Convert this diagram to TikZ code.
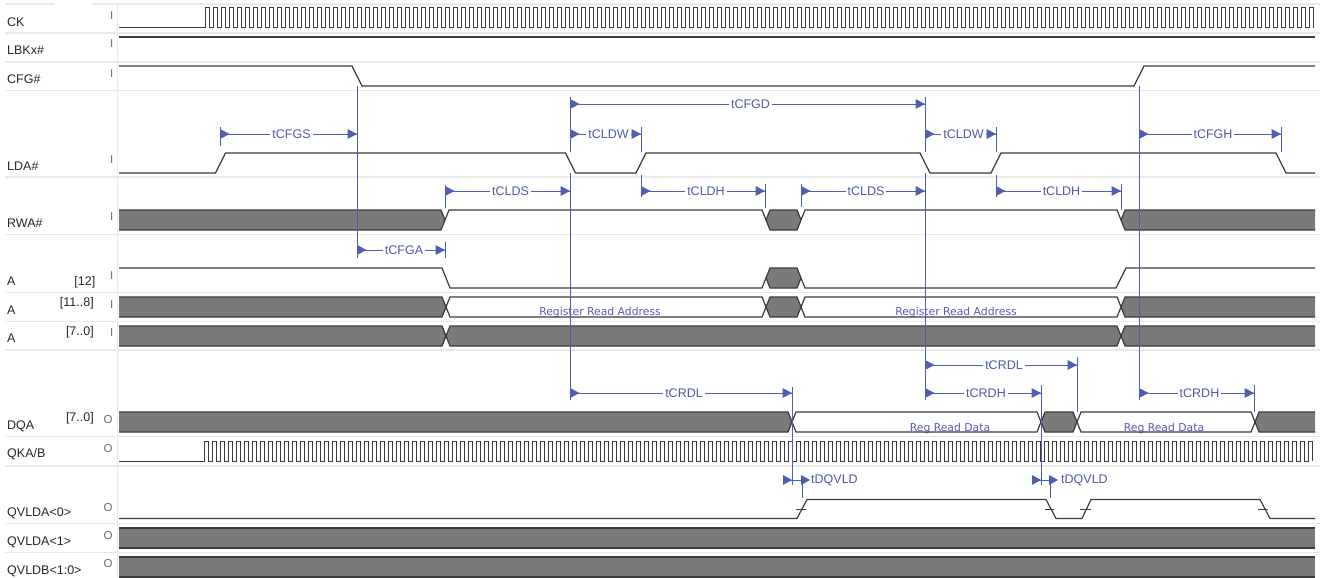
\documentclass[tikz,border=0pt]{standalone}
\usepackage{fontspec}
\setmainfont{Liberation Sans}
\newfontfamily\busfont{DejaVu Sans}
\definecolor{wave}{RGB}{60,60,60}
\definecolor{busgray}{RGB}{122,122,122}
\definecolor{dimc}{RGB}{80,94,178}
\definecolor{dimtext}{RGB}{78,88,172}
\definecolor{sepc}{RGB}{234,234,234}
\definecolor{iocol}{RGB}{110,110,110}
\definecolor{labc}{RGB}{40,40,40}
\definecolor{bustext}{RGB}{88,88,190}
\tikzset{
 wv/.style={draw=wave, line width=1.2pt, line join=miter},
 clk/.style={draw=wave, line width=1pt},
 sep/.style={draw=sepc, line width=1.5pt},
 dimln/.style={draw=dimc, line width=1pt},
 tick/.style={draw=wave, line width=0.7pt},
 siglabel/.style={anchor=base west, inner sep=0pt, text=labc, font=\fontsize{12.5}{14}\selectfont},
 idxlabel/.style={anchor=base east, inner sep=0pt, text=labc, font=\fontsize{12.5}{14}\selectfont},
 iolabel/.style={anchor=base, inner sep=0pt, text=iocol, font=\fontsize{11.5}{13}\selectfont},
 dimlabel/.style={fill=white, inner xsep=2pt, inner ysep=1pt, text=dimtext, font=\fontsize{12.5}{14}\selectfont},
 bustxt/.style={anchor=base, inner sep=0pt, text=bustext, font=\busfont\fontsize{10.8}{12}\selectfont},
}
\newcommand{\dimarrow}[5]{%
  \draw[dimln] ({#3},{#2}) -- ({#4},{#2});
  \fill[dimc] ({#3},{#2-5}) -- ({#3+9.5},{#2}) -- ({#3},{#2+5}) -- cycle;
  \fill[dimc] ({#4-9.5},{#2-5}) -- ({#4},{#2}) -- ({#4-9.5},{#2+5}) -- cycle;
  \node[dimlabel] (#1) at ({(#3+#4)/2+3},{#2}) {#5};
}
\newcommand{\vmark}[3]{\draw[dimln] ({#1},{#2}) -- ({#1},{#3});}
\newcommand{\graybus}[4]{% point x1, point x2, top, bottom
  \filldraw[wv, fill=busgray] ({#1},{(#3+#4)/2}) -- ({#1+4},{#3}) -- ({#2-4},{#3}) -- ({#2},{(#3+#4)/2}) -- ({#2-4},{#4}) -- ({#1+4},{#4}) -- cycle;}
\newcommand{\whitebus}[4]{%
  \draw[wv] ({#1},{(#3+#4)/2}) -- ({#1+4},{#3}) -- ({#2-4},{#3}) -- ({#2},{(#3+#4)/2}) -- ({#2-4},{#4}) -- ({#1+4},{#4}) -- cycle;}
\newcommand{\graystart}[3]{% from left edge to point x, top, bottom
  \fill[busgray] (119,{#2}) -- ({#1-4},{#2}) -- ({#1},{(#2+#3)/2}) -- ({#1-4},{#3}) -- (119,{#3}) -- cycle;
  \draw[wv] (119,{#2}) -- ({#1-4},{#2}) -- ({#1},{(#2+#3)/2}) -- ({#1-4},{#3}) -- (119,{#3});}
\newcommand{\grayend}[3]{% from point x to right edge
  \fill[busgray] (1315,{#2}) -- ({#1+4},{#2}) -- ({#1},{(#2+#3)/2}) -- ({#1+4},{#3}) -- (1315,{#3}) -- cycle;
  \draw[wv] (1315,{#2}) -- ({#1+4},{#2}) -- ({#1},{(#2+#3)/2}) -- ({#1+4},{#3}) -- (1315,{#3});}
\begin{document}
\begin{tikzpicture}[x=1pt,y=-1pt]
\useasboundingbox (0,0) rectangle (1320,578);
\fill[white] (0,0) rectangle (1320,578);
% separators
\draw[sep] (5,4) -- (55,4);
\draw[sep] (92,4) -- (1320,4);
\foreach \yy in {33,62,90.5,177,234.3,292.3,321.5,350,436.7,466,523.3,552.7}
  \draw[sep] (5,\yy) -- (1320,\yy);
\draw[sep] (117.3,4) -- (117.3,578);
% labels
\node[siglabel] (lck) at (7,26.7) {CK};
\node[siglabel] (llbk) at (7,55) {LBKx\#};
\node[siglabel] (lcfg) at (7,83.3) {CFG\#};
\node[siglabel] (llda) at (7,170.7) {LDA\#};
\node[siglabel] (lrwa) at (7,227.7) {RWA\#};
\node[siglabel] (la12) at (7,285.7) {A};
\node[idxlabel] (ia12) at (95.5,285) {[12]};
\node[siglabel] (la118) at (7,314) {A};
\node[idxlabel] (ia118) at (94,306.8) {[11..8]};
\node[siglabel] (la70) at (7,342.7) {A};
\node[idxlabel] (ia70) at (94,335.8) {[7..0]};
\node[siglabel] (ldqa) at (7,429.3) {DQA};
\node[idxlabel] (idqa) at (94,421.8) {[7..0]};
\node[siglabel] (lqka) at (7,457.3) {QKA/B};
\node[siglabel] (lqv0) at (7,516.7) {QVLDA<0>};
\node[siglabel] (lqv1) at (7,545) {QVLDA<1>};
\node[siglabel] (lqvb) at (7,574) {QVLDB<1:0>};
% I/O markers
\foreach \yy/\nm in {19.3/ick,48/ilbk,77.3/icfg,163.3/ilda,220/irwa,279/ia,308/ib,336.7/ic}
  \node[iolabel] (\nm) at (111.7,\yy) {I};
\foreach \yy/\nm in {423.3/odqa,452/oqka,511/oqv0,539/oqv1,567/oqvb}
  \node[iolabel] (\nm) at (108,\yy) {O};
% CK
\draw[clk] (119,28) -- (205,28) \foreach \i in {1,...,138}{ -- ++(0,-20) -- ++(4,0) -- ++(0,20) -- ++(4,0)} -- ++(0,-20) -- ++(4,0) -- ++(0,20);
% LBKx#
\draw[wv] (119,37) -- (1315,37);
% CFG#
\draw[wv] (119,66) -- (352,66) -- (362,86) -- (1134,86) -- (1144,66) -- (1315,66);
% LDA#
\draw[wv] (119,173) -- (215.5,173) -- (225.5,153) -- (565.5,153) -- (575.5,173) -- (636,173) -- (646,153) -- (920,153) -- (930,173) -- (991,173) -- (1001,153) -- (1276,153) -- (1286,173) -- (1315,173);
% RWA#
\graystart{445}{210}{230}
\draw[wv] (445,220) -- (449,210) -- (762,210) -- (766,220);
\graybus{766}{801}{210}{230}
\draw[wv] (801,220) -- (805,210) -- (1117,210) -- (1121,220);
\grayend{1121}{210}{230}
% A[12]
\draw[wv] (119,268) -- (442,268) -- (450,288) -- (762,288) -- (766,278);
\graybus{766}{801}{268}{288}
\draw[wv] (801,278) -- (805,288) -- (1116,288) -- (1126,268) -- (1315,268);
% A[11..8]
\node[bustxt] (rra1) at (600,315.5) {Register Read Address};
\node[bustxt] (rra2) at (956,315.5) {Register Read Address};
\graystart{446}{297}{317}
\whitebus{446}{766}{297}{317}
\graybus{766}{801}{297}{317}
\whitebus{801}{1121}{297}{317}
\grayend{1121}{297}{317}
% A[7..0]
\graystart{446}{326}{346}
\graybus{446}{1121}{326}{346}
\grayend{1121}{326}{346}
% DQA
\node[bustxt] (rrd1) at (950,431) {Reg Read Data};
\node[bustxt] (rrd2) at (1164,431) {Reg Read Data};
\graystart{792}{412}{432}
\whitebus{792}{1041}{412}{432}
\graybus{1041}{1077}{412}{432}
\whitebus{1077}{1255}{412}{432}
\grayend{1255}{412}{432}
% QKA/B
\draw[clk] (119,461) -- (204,461) \foreach \i in {1,...,138}{ -- ++(0,-20) -- ++(4,0) -- ++(0,20) -- ++(4,0)} -- ++(0,-20) -- ++(4,0) -- ++(0,20);
% QVLDA<0>
\draw[wv] (119,518.5) -- (797,518.5) -- (807,499.5) -- (1046,499.5) -- (1056,518.5) -- (1082,518.5) -- (1091,499.5) -- (1260,499.5) -- (1270,518.5) -- (1315,518.5);
\draw[tick] (796,509) -- (806,509);
\draw[tick] (1045,509) -- (1054,509);
\draw[tick] (1080,509) -- (1091,509);
\draw[tick] (1258,509) -- (1268,509);
% QVLDA<1>, QVLDB<1:0>
\fill[busgray] (119,528) rectangle (1315,548);
\draw[wv] (119,528) -- (1315,528) (119,548) -- (1315,548);
\fill[busgray] (119,557) rectangle (1315,577);
\draw[wv] (119,557) -- (1315,557) (119,577) -- (1315,577);
% timing verticals
\vmark{357}{86}{258}
\vmark{220}{127}{146}
\vmark{445}{242}{258}
\vmark{445}{185}{208}
\vmark{570}{97}{152}
\vmark{570}{173}{400}
\vmark{641}{127}{152}
\vmark{641}{175}{197}
\vmark{765}{184}{208}
\vmark{801}{184}{207}
\vmark{925}{97}{152}
\vmark{925}{173}{400}
\vmark{996}{127}{152}
\vmark{996}{175}{197}
\vmark{1121}{184}{210}
\vmark{1139}{86}{400}
\vmark{1281}{127}{152}
\vmark{792}{387}{485}
\vmark{802}{477}{498}
\vmark{1077}{357}{412}
\vmark{1041}{385}{485}
\vmark{1050}{477}{498}
\vmark{1254}{385}{412}
% timing arrows
\dimarrow{dcfgs}{134}{220}{357}{tCFGS}
\dimarrow{dcfgd}{104}{570}{925}{tCFGD}
\dimarrow{dcldw1}{134}{570}{641}{tCLDW}
\dimarrow{dcldw2}{134}{925}{996}{tCLDW}
\dimarrow{dcfgh}{134}{1139}{1281}{tCFGH}
\dimarrow{dclds1}{191}{445}{570}{tCLDS}
\dimarrow{dcldh1}{191}{641}{765}{tCLDH}
\dimarrow{dclds2}{191}{801}{925}{tCLDS}
\dimarrow{dcldh2}{191}{996}{1121}{tCLDH}
\dimarrow{dcfga}{250}{357}{445}{tCFGA}
\dimarrow{dcrdl2}{365}{925}{1077}{tCRDL}
\dimarrow{dcrdh2}{393}{925}{1041}{tCRDH}
\dimarrow{dcrdl1}{393}{570}{792}{tCRDL}
\dimarrow{dcrdh3}{393}{1139}{1254}{tCRDH}
% tDQVLD
\draw[dimln] (783,480) -- (802,480);
\fill[dimc] (783,475) -- (792,480) -- (783,485) -- cycle;
\fill[dimc] (801,475) -- (810,480) -- (801,485) -- cycle;
\node[dimlabel, anchor=west, fill=none, inner xsep=0pt] (ddq1) at (811,480) {tDQVLD};
\draw[dimln] (1032,480) -- (1050,480);
\fill[dimc] (1032,475) -- (1041,480) -- (1032,485) -- cycle;
\fill[dimc] (1049,475) -- (1058,480) -- (1049,485) -- cycle;
\node[dimlabel, anchor=west, fill=none, inner xsep=0pt] (ddq2) at (1061,480) {tDQVLD};
\end{tikzpicture}
\end{document}
